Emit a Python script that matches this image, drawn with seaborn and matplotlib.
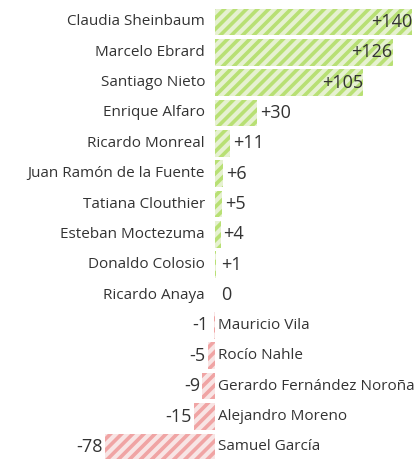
import matplotlib
matplotlib.use("Agg")
import matplotlib.pyplot as plt
import seaborn as sns
import pandas as pd

names = ["Claudia Sheinbaum", "Marcelo Ebrard", "Santiago Nieto", "Enrique Alfaro",
         "Ricardo Monreal", "Juan Ramón de la Fuente", "Tatiana Clouthier",
         "Esteban Moctezuma", "Donaldo Colosio", "Ricardo Anaya", "Mauricio Vila",
         "Rocío Nahle", "Gerardo Fernández Noroña", "Alejandro Moreno", "Samuel García"]
values = [140, 126, 105, 30, 11, 6, 5, 4, 1, 0, -1, -5, -9, -15, -78]
labels = ["+140", "+126", "+105", "+30", "+11", "+6", "+5", "+4", "+1", "0",
          "-1", "-5", "-9", "-15", "-78"]

sns.set_theme(style="white")
plt.rcParams['font.family'] = ['Open Sans', 'DejaVu Sans']
plt.rcParams['hatch.linewidth'] = 2.6

df = pd.DataFrame({"name": names, "value": values})
df["sign"] = ["pos" if v >= 0 else "neg" for v in values]

fig = plt.figure(figsize=(4.18, 4.59), dpi=100)
ax = fig.add_axes([0, 0, 1, 1])
sns.barplot(data=df, x="value", y="name", hue="sign", dodge=False, orient="h",
            palette={"pos": "#e8f6cc", "neg": "#fbe2e2"}, width=0.88,
            legend=False, ax=ax)

for p in ax.patches:
    w = p.get_width()
    if w > 0:
        p.set_edgecolor("#b8e074")
    else:
        p.set_edgecolor("#f0a4a4")
    p.set_hatch("///")
    p.set_linewidth(0)

ax.set_xlim(-152.5, 144)
ax.set_ylim(14.4, -0.72)
ax.axis("off")

txt = "#333333"
for i, (n, v, lab) in enumerate(zip(names, values, labels)):
    if v >= 0:
        ax.text(-7, i, n, ha="right", va="center", fontsize=11, color=txt)
        if v >= 100:
            ax.text(v, i, lab, ha="right", va="center", fontsize=13, color=txt)
        else:
            ax.text(max(v, 2) + 2, i, lab, ha="left", va="center", fontsize=13, color=txt)
    else:
        ax.text(2, i, n, ha="left", va="center", fontsize=11, color=txt)
        ax.text(min(v, -3) - 1.5, i, lab, ha="right", va="center", fontsize=13, color=txt)

fig.savefig("out.png", dpi=100)
